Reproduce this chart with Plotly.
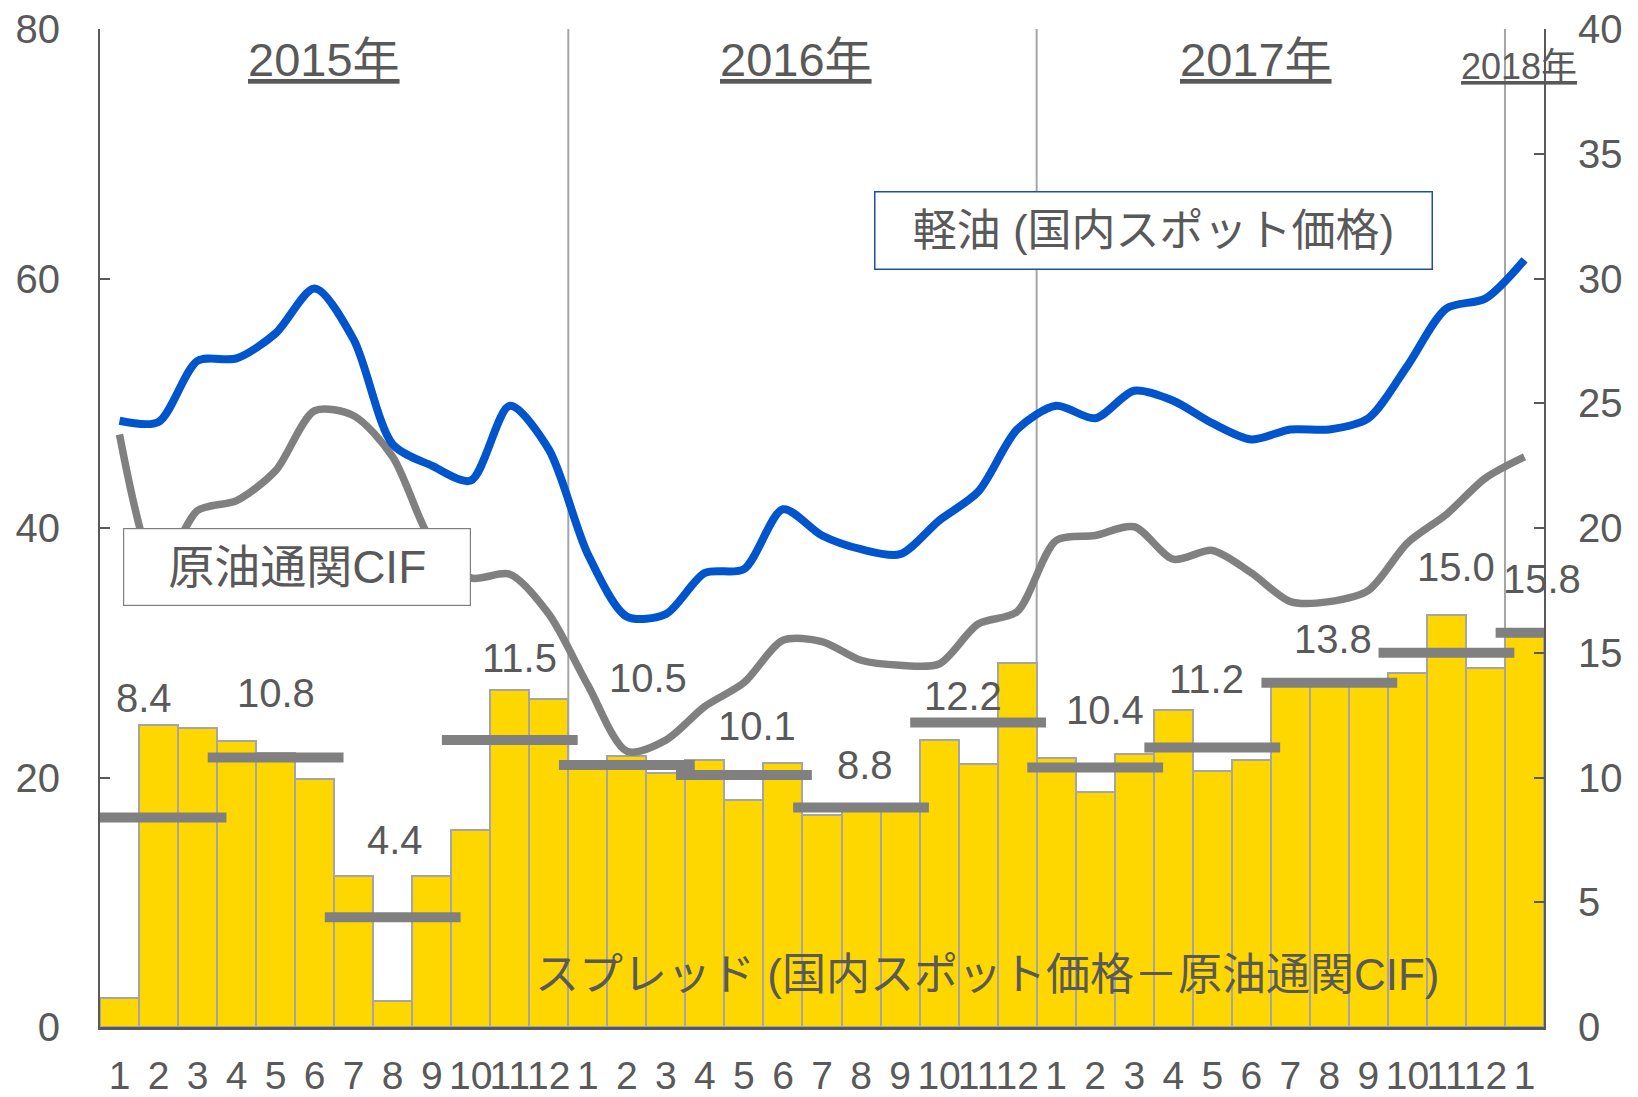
import plotly.graph_objects as go

# ---------------- data ----------------
month_labels = ["1", "2", "3", "4", "5", "6", "7", "8", "9", "10", "11", "12",
                "1", "2", "3", "4", "5", "6", "7", "8", "9", "10", "11", "12",
                "1", "2", "3", "4", "5", "6", "7", "8", "9", "10", "11", "12",
                "1"]

# 軽油（国内スポット価格） left axis
diesel = [48.6, 48.5, 53.4, 53.6, 55.6, 59.2, 55.1, 46.7, 45.0, 43.8, 49.8, 46.3,
          37.9, 32.9, 33.1, 36.4, 36.7, 41.5, 39.4, 38.3, 37.9, 40.6, 42.9, 47.9,
          49.8, 48.8, 51.0, 50.2, 48.4, 47.1, 47.9, 47.9, 48.8, 53.0, 57.6, 58.4,
          61.5]

# 原油通関CIF left axis
crude = [47.5, 36.4, 41.4, 42.2, 44.6, 49.4, 49.0, 45.7, 38.9, 36.0, 36.3, 33.1,
         27.4, 22.1, 23.0, 25.7, 27.6, 31.0, 30.9, 29.4, 29.0, 29.1, 32.3, 33.3,
         39.0, 39.4, 40.1, 37.5, 38.2, 36.4, 34.1, 34.1, 35.0, 38.8, 41.1, 44.0,
         45.7]

# スプレッド right axis
spread = [1.15, 12.1, 12.0, 11.45, 11.0, 9.95, 6.05, 1.05, 6.05, 7.9, 13.5, 13.15,
          10.45, 10.85, 10.2, 10.7, 9.1, 10.6, 8.5, 8.9, 8.95, 11.5, 10.55, 14.6,
          10.8, 9.4, 10.95, 12.7, 10.25, 10.7, 13.8, 13.8, 13.8, 14.2, 16.5, 14.4,
          15.8]

# quarterly averages of spread
quarter_avg = [8.4, 10.8, 4.4, 11.5, 10.5, 10.1, 8.8, 12.2, 10.4, 11.2, 13.8, 15.0, 15.8]

year_labels = ["2015年", "2016年", "2017年", "2018年"]

# ---------------- layout-only helpers ----------------
label_dx = [-0.37, 0.0, 0.05, 0.25, 0.55, 0.34, 0.1, -0.4, 0.24, -0.15, 0.1, 0.25, 0.45]
label_dy = [4.8, 2.6, 3.1, 3.3, 3.5, 1.95, 1.7, 1.05, 2.3, 2.75, 1.75, 3.45, 2.15]
year_x = [6.23, 18.33, 30.13, 36.86]
year_y = [0.969, 0.969, 0.969, 0.962]
year_size = [47, 47, 47, 36]

FONT = "Arial, 'Liberation Sans', 'Noto Sans CJK JP', sans-serif"
TXT = "#595959"
AXIS = "#595959"

x = list(range(1, len(month_labels) + 1))

fig = go.Figure()

fig.add_trace(go.Bar(
    x=x, y=spread, width=1, yaxis="y",
    marker=dict(color="#FFD700", line=dict(color="#A5A5A5", width=2)),
    showlegend=False, hoverinfo="skip"))

q_start = [3 * q + 1 for q in range(len(quarter_avg))]
q_end = [min(s + 2, len(x)) for s in q_start]
q_center = [(s + e) / 2 for s, e in zip(q_start, q_end)]
q_half = [(e - s) / 2 + 0.74 for s, e in zip(q_start, q_end)]

fig.add_trace(go.Scatter(
    x=q_center, y=quarter_avg, mode="markers", yaxis="y",
    marker=dict(size=1, color="rgba(0,0,0,0)"),
    error_x=dict(type="data", array=q_half, symmetric=True, thickness=10,
                 width=0, color="#808080"),
    cliponaxis=False, showlegend=False, hoverinfo="skip"))

fig.add_trace(go.Scatter(
    x=x, y=crude, mode="lines", yaxis="y2",
    line=dict(color="#808080", width=7.5, shape="spline", smoothing=0.8),
    showlegend=False, hoverinfo="skip"))

fig.add_trace(go.Scatter(
    x=x, y=diesel, mode="lines", yaxis="y2",
    line=dict(color="#0055CC", width=8, shape="spline", smoothing=0.8),
    showlegend=False, hoverinfo="skip"))

annotations = []
for c, v, dx, dy in zip(q_center, quarter_avg, label_dx, label_dy):
    annotations.append(dict(
        x=c + dx, y=v + dy, xref="x", yref="y", text=f"{v:.1f}",
        showarrow=False, font=dict(family=FONT, size=40, color=TXT)))

for t, xx, yy, sz in zip(year_labels, year_x, year_y, year_size):
    annotations.append(dict(
        x=xx, y=yy, xref="x", yref="paper", text=f"<u>{t}</u>",
        xanchor="center", yanchor="middle",
        showarrow=False, font=dict(family=FONT, size=sz, color=TXT)))

annotations.append(dict(
    x=27.5, y=63.85, xref="x", yref="y2", text="軽油 (国内スポット価格)",
    showarrow=False, font=dict(family=FONT, size=44, color=TXT),
    bgcolor="white", bordercolor="#1F4E9A", borderwidth=1.5, borderpad=5,
    width=546, height=66))

annotations.append(dict(
    x=5.54, y=36.87, xref="x", yref="y2", text="原油通関CIF",
    showarrow=False, font=dict(family=FONT, size=46, color=TXT),
    bgcolor="white", bordercolor="#7F7F7F", borderwidth=1.2, borderpad=5,
    width=336, height=66))

annotations.append(dict(
    x=23.22, y=2.12, xref="x", yref="y", text="スプレッド (国内スポット価格－原油通関CIF)",
    showarrow=False, font=dict(family=FONT, size=44, color=TXT)))

shapes = []
for i, m in enumerate(month_labels):
    if m == "1" and i > 0:
        shapes.append(dict(type="line", xref="x", yref="paper",
                           x0=x[i] - 0.5, x1=x[i] - 0.5, y0=0, y1=1,
                           line=dict(color="#A6A6A6", width=2), layer="below"))

fig.update_layout(
    width=1638, height=1097,
    margin=dict(l=100, r=94, t=29, b=70, autoexpand=False),
    paper_bgcolor="white", plot_bgcolor="white",
    font=dict(family=FONT, color=TXT, size=40),
    showlegend=False,
    bargap=0,
    xaxis=dict(range=[0.5, 37.5], tickmode="array", tickvals=x, ticktext=month_labels,
               tickangle=0, showline=True, linecolor=AXIS, linewidth=3,
               ticks="", showgrid=False, zeroline=False, automargin=False,
               tickfont=dict(family=FONT, size=39, color=TXT),
               ticklabelstandoff=12),
    yaxis=dict(range=[0, 40], tickmode="array", tickvals=[0, 5, 10, 15, 20, 25, 30, 35, 40],
               side="right", showline=True, linecolor=AXIS, linewidth=2,
               ticks="inside", ticklen=10, tickwidth=2, tickcolor=AXIS,
               showgrid=False, zeroline=False, automargin=False,
               tickfont=dict(family=FONT, size=40, color=TXT),
               ticklabelstandoff=24),
    yaxis2=dict(range=[0, 80], tickmode="array", tickvals=[0, 20, 40, 60, 80],
                side="left", overlaying="y", anchor="x", showline=True,
                linecolor=AXIS, linewidth=2,
                ticks="inside", ticklen=10, tickwidth=2, tickcolor=AXIS,
                showgrid=False, zeroline=False, automargin=False,
                tickfont=dict(family=FONT, size=40, color=TXT),
                ticklabelstandoff=30),
    annotations=annotations,
    shapes=shapes,
)

fig.write_html("out.html", config={"displayModeBar": False},
               post_script="document.body.style.margin='0';")
